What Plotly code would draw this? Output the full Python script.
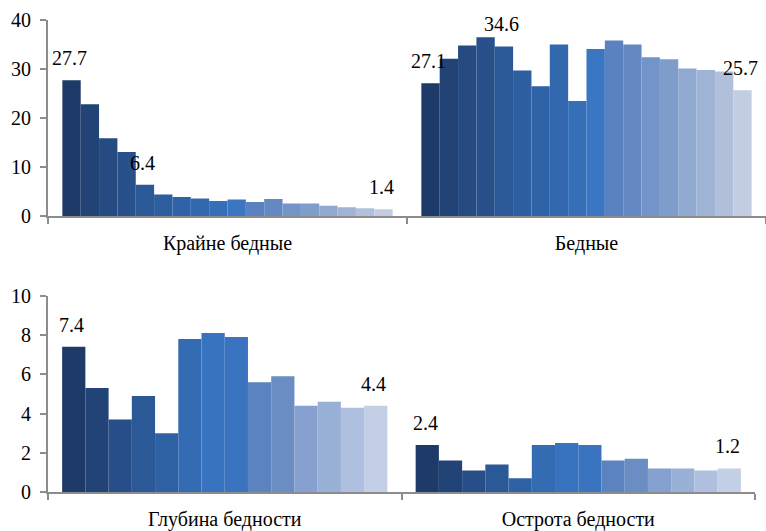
import plotly.graph_objects as go

# -------------------------
# DATA
# -------------------------
categories_top = ["Крайне бедные", "Бедные"]
categories_bottom = ["Глубина бедности", "Острота бедности"]

extreme_poor = [27.7, 22.8, 15.9, 13.1, 6.4, 4.4, 3.9, 3.6, 3.1, 3.4, 2.9, 3.5, 2.6, 2.6, 2.1, 1.8, 1.6, 1.4]
poor = [27.1, 32.1, 34.8, 36.5, 34.6, 29.7, 26.5, 35.0, 23.5, 34.1, 35.8, 35.0, 32.4, 32.0, 30.1, 29.8, 29.5, 25.7]
poverty_depth = [7.4, 5.3, 3.7, 4.9, 3.0, 7.8, 8.1, 7.9, 5.6, 5.9, 4.4, 4.6, 4.3, 4.4]
poverty_severity = [2.4, 1.6, 1.1, 1.4, 0.7, 2.4, 2.5, 2.4, 1.6, 1.7, 1.2, 1.2, 1.1, 1.2]

# which bars carry a value label
labeled_top = [0, 4, 17]
labeled_bottom = [0, 13]

colors_top = ['#1d3a68', '#224376', '#254b82', '#28518b', '#2b5896', '#2d5e9f',
              '#2f63a7', '#3168ae', '#346fb8', '#3a76c2', '#5a82c0', '#6489c2',
              '#7394c8', '#7f9dcb', '#8fa9d0', '#9fb4d5', '#b0c0db', '#c2cde2']
colors_bottom = ['#1d3a68', '#224376', '#274e88', '#2b5896', '#2f62a4', '#346cb3',
                 '#3873bf', '#3a74c0', '#5b83c0', '#6a8dc4', '#86a0cf', '#99b0d7',
                 '#aebfdf', '#c3cfe5']

BARGAP = 0.08
FONT = dict(family='Liberation Serif, Times New Roman, serif', size=20, color='black')
AXIS_COLOR = '#8c8c8c'

fig = go.Figure()


def add_panel(cats, series_a, series_b, colors, xref, yref, labeled):
    n = len(series_a)
    for i in range(n):
        fig.add_trace(go.Bar(
            x=cats, y=[series_a[i], series_b[i]],
            marker=dict(color=colors[i], line_width=0),
            xaxis=xref, yaxis=yref, showlegend=False
        ))
    # label positions in category-index units
    w = (1 - BARGAP) / n
    for g, series in enumerate([series_a, series_b]):
        for i in labeled:
            fig.add_annotation(
                x=g - (1 - BARGAP) / 2 + (i + 0.5) * w, y=series[i],
                xref=xref, yref=yref, text=f'{series[i]:.1f}',
                showarrow=False, yanchor='middle', yshift=22, xshift=-2, font=FONT
            )


add_panel(categories_top, extreme_poor, poor, colors_top, 'x', 'y', labeled_top)
add_panel(categories_bottom, poverty_depth, poverty_severity, colors_bottom, 'x2', 'y2', labeled_bottom)

axis_common = dict(
    showline=True, linecolor=AXIS_COLOR, linewidth=2,
    ticks='outside', tickcolor=AXIS_COLOR, ticklen=6, tickwidth=1.5,
    showgrid=False, zeroline=False, tickfont=FONT
)

fig.update_layout(
    width=766, height=531,
    margin=dict(l=48, r=0, t=20, b=36),
    barmode='group', bargap=BARGAP, bargroupgap=0,
    plot_bgcolor='white', paper_bgcolor='white',
    showlegend=False,
    xaxis=dict(axis_common, domain=[0, 1], anchor='y', tickson='boundaries',
               range=[-0.5, 1.5], ticklabelstandoff=8),
    yaxis=dict(axis_common, domain=[0.5844, 1], anchor='x', range=[0, 40], dtick=10,
               ticklabelstandoff=5),
    xaxis2=dict(axis_common, domain=[0, 0.9847], anchor='y2', tickson='boundaries',
                range=[-0.5, 1.5], ticklabelstandoff=8),
    yaxis2=dict(axis_common, domain=[0, 0.4156], anchor='x2', range=[0, 10], dtick=2,
                ticklabelstandoff=5),
)

fig.write_html('out.html', config={'displayModeBar': False},
               post_script="document.body.style.margin = '0';")
